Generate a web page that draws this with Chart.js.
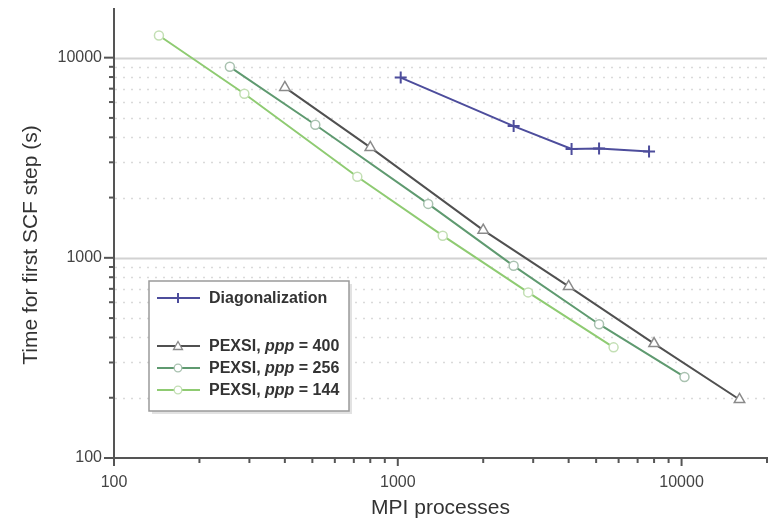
<!DOCTYPE html>
<html>
<head>
<meta charset="utf-8">
<script src="https://cdn.jsdelivr.net/npm/chart.js@4.4.1/dist/chart.umd.min.js"></script>
<style>
  html, body { margin: 0; padding: 0; background: #fff; }
  #wrap { width: 777px; height: 521px; }
</style>
</head>
<body>
<div id="wrap"><canvas id="scfChart" width="777" height="521"></canvas></div>
<script>
// Data
const diagProcs = [1024, 2560, 4096, 5120, 7680];
const diagTimes = [7950, 4550, 3500, 3520, 3400];
const p400Procs = [400, 800, 2000, 4000, 8000, 16000];
const p400Times = [7100, 3560, 1375, 720, 373, 196];
const p256Procs = [256, 512, 1280, 2560, 5120, 10240];
const p256Times = [9000, 4620, 1860, 912, 466, 254];
const p144Procs = [144, 288, 720, 1440, 2880, 5760];
const p144Times = [12900, 6600, 2540, 1290, 672, 357];
const xLabelTicks = [100, 1000, 10000];
const yLabelTicks = [100, 1000, 10000];

const toPoints = (xs, ys) => xs.map((v, i) => ({ x: v, y: ys[i] }));

// mantissa of a log tick, 0 if not a whole 1..9 multiple
function mantissa(v) {
    const e = Math.floor(Math.log10(v) + 1e-9);
    const m = v / Math.pow(10, e);
    return Math.abs(m - Math.round(m)) < 1e-6 ? Math.round(m) : 0;
}

const FONT = '"Liberation Sans", Arial, sans-serif';

// --- grid lines + tick marks + y title ---
const gridPlugin = {
    id: 'logGrid',
    beforeDatasetsDraw(chart) {
        const { ctx, chartArea: a, scales: { y } } = chart;
        ctx.save();
        y.ticks.forEach(t => {
            const m = mantissa(t.value);
            if (!m || t.value <= y.min) return;
            const py = Math.round(y.getPixelForValue(t.value)) + 0.5;
            ctx.beginPath();
            if (m === 1) { ctx.setLineDash([]); ctx.lineWidth = 2; ctx.strokeStyle = '#d2d2d2'; }
            else { ctx.setLineDash([2, 6]); ctx.lineWidth = 1.5; ctx.strokeStyle = '#dadada'; }
            ctx.moveTo(a.left + 1, py);
            ctx.lineTo(a.right, py);
            ctx.stroke();
        });
        ctx.restore();
    },
    afterDraw(chart) {
        const { ctx, chartArea: a, scales: { x, y } } = chart;
        ctx.save();
        ctx.strokeStyle = '#555';
        ctx.lineWidth = 2;
        y.ticks.forEach(t => {
            const m = mantissa(t.value);
            if (!m) return;
            const py = y.getPixelForValue(t.value);
            ctx.beginPath();
            if (m === 1) { ctx.moveTo(a.left - 10, py); ctx.lineTo(a.left, py); }
            else { ctx.moveTo(a.left - 5, py); ctx.lineTo(a.left + 1, py); }
            ctx.stroke();
        });
        x.ticks.forEach(t => {
            const m = mantissa(t.value);
            if (!m) return;
            const px = x.getPixelForValue(t.value);
            ctx.beginPath();
            if (m === 1) { ctx.moveTo(px, a.bottom); ctx.lineTo(px, a.bottom + 8); }
            else { ctx.moveTo(px, a.bottom - 1); ctx.lineTo(px, a.bottom + 5); }
            ctx.stroke();
        });
        // y axis title, sits a bit below the plot centre in the original
        ctx.translate(31, 245);
        ctx.rotate(-Math.PI / 2);
        ctx.fillStyle = '#333';
        ctx.font = '21px ' + FONT;
        ctx.textAlign = 'center';
        ctx.textBaseline = 'middle';
        ctx.fillText('Time for first SCF step (s)', 0, 0);
        ctx.restore();
    }
};

// --- legend box (drawn by hand for the italic ppp) ---
function drawMarker(ctx, style, cx, cy, color) {
    ctx.save();
    ctx.strokeStyle = color;
    ctx.fillStyle = '#fff';
    ctx.lineWidth = 1.3;
    ctx.beginPath();
    if (style === 'cross') {
        ctx.lineWidth = 2;
        ctx.moveTo(cx - 5, cy); ctx.lineTo(cx + 5, cy);
        ctx.moveTo(cx, cy - 5); ctx.lineTo(cx, cy + 5);
        ctx.stroke();
    } else if (style === 'triangle') {
        ctx.moveTo(cx, cy - 4.5); ctx.lineTo(cx + 4.5, cy + 3.5); ctx.lineTo(cx - 4.5, cy + 3.5);
        ctx.closePath(); ctx.fill(); ctx.stroke();
    } else {
        ctx.arc(cx, cy, 3.8, 0, Math.PI * 2);
        ctx.fill(); ctx.stroke();
    }
    ctx.restore();
}

const legendPlugin = {
    id: 'boxLegend',
    afterDraw(chart) {
        const ctx = chart.ctx;
        const bx = 149, by = 281, bw = 200, bh = 130;
        ctx.save();
        ctx.fillStyle = '#e2e2e2';
        ctx.fillRect(bx + 3, by + 3, bw, bh);
        ctx.fillStyle = '#fff';
        ctx.fillRect(bx, by, bw, bh);
        ctx.strokeStyle = '#9a9a9a';
        ctx.lineWidth = 1.5;
        ctx.strokeRect(bx, by, bw, bh);

        const rows = [
            { y: 298, ds: 0, parts: [['Diagonalization', 'bold']] },
            { y: 346, ds: 1, parts: [['PEXSI, ', 'bold'], ['ppp', 'italic bold'], [' = 400', 'bold']] },
            { y: 368, ds: 2, parts: [['PEXSI, ', 'bold'], ['ppp', 'italic bold'], [' = 256', 'bold']] },
            { y: 390, ds: 3, parts: [['PEXSI, ', 'bold'], ['ppp', 'italic bold'], [' = 144', 'bold']] }
        ];
        rows.forEach(r => {
            const ds = chart.data.datasets[r.ds];
            ctx.strokeStyle = ds.borderColor;
            ctx.lineWidth = 2;
            ctx.beginPath();
            ctx.moveTo(157, r.y); ctx.lineTo(200, r.y);
            ctx.stroke();
            drawMarker(ctx, ds.pointStyle, 178, r.y, ds.pointBorderColor);
            let tx = 209;
            ctx.fillStyle = '#333';
            ctx.textBaseline = 'middle';
            r.parts.forEach(([txt, st]) => {
                ctx.font = st + ' 16px ' + FONT;
                ctx.fillText(txt, tx, r.y + 1);
                tx += ctx.measureText(txt).width;
            });
        });
        ctx.restore();
    }
};

const ctx = document.getElementById('scfChart').getContext('2d');
const scfChart = new Chart(ctx, {
    type: 'line',
    data: {
        datasets: [
            {
                label: 'Diagonalization',
                data: toPoints(diagProcs, diagTimes),
                borderColor: '#4d4d9c', pointBorderColor: '#4d4d9c', pointBackgroundColor: '#4d4d9c',
                pointStyle: 'cross', pointRadius: 6, pointBorderWidth: 2, borderWidth: 2
            },
            {
                label: 'PEXSI, ppp = 400',
                data: toPoints(p400Procs, p400Times),
                borderColor: '#505050', pointBorderColor: '#8a8a8a', pointBackgroundColor: '#fff',
                pointStyle: 'triangle', pointRadius: 6, pointBorderWidth: 1.5, borderWidth: 2
            },
            {
                label: 'PEXSI, ppp = 256',
                data: toPoints(p256Procs, p256Times),
                borderColor: '#5f9a70', pointBorderColor: '#a9c2b0', pointBackgroundColor: '#fff',
                pointStyle: 'circle', pointRadius: 4.5, pointBorderWidth: 1.5, borderWidth: 2
            },
            {
                label: 'PEXSI, ppp = 144',
                data: toPoints(p144Procs, p144Times),
                borderColor: '#8fcb72', pointBorderColor: '#c3dfb4', pointBackgroundColor: '#fff',
                pointStyle: 'circle', pointRadius: 4.5, pointBorderWidth: 1.5, borderWidth: 2
            }
        ]
    },
    options: {
        responsive: false,
        animation: false,
        layout: { padding: { top: 9, right: 10, left: 0, bottom: 0 } },
        plugins: { legend: { display: false }, tooltip: { enabled: false } },
        scales: {
            x: {
                type: 'logarithmic',
                min: 100, max: 20000,
                grid: { display: false },
                border: { display: true, color: '#555', width: 2 },
                ticks: {
                    autoSkip: false, maxRotation: 0, padding: 7,
                    color: '#444', font: { family: FONT, size: 16 },
                    callback: v => xLabelTicks.includes(v) ? String(v) : ''
                },
                title: {
                    display: true, text: 'MPI processes', color: '#333',
                    font: { family: FONT, size: 21 }, padding: { top: 0, bottom: 0 }
                },
                afterFit: s => { s.height = 63; s.paddingLeft = 0; s.paddingRight = 0; }
            },
            y: {
                type: 'logarithmic',
                min: 100, max: 17500,
                grid: { display: false },
                border: { display: true, color: '#555', width: 2 },
                ticks: {
                    autoSkip: false, padding: 4,
                    color: '#444', font: { family: FONT, size: 16 },
                    callback: v => yLabelTicks.includes(v) ? String(v) : ''
                },
                afterFit: s => { s.width = 114; s.paddingTop = 0; s.paddingBottom = 0; }
            }
        }
    },
    plugins: [gridPlugin, legendPlugin]
});
</script>
</body>
</html>
